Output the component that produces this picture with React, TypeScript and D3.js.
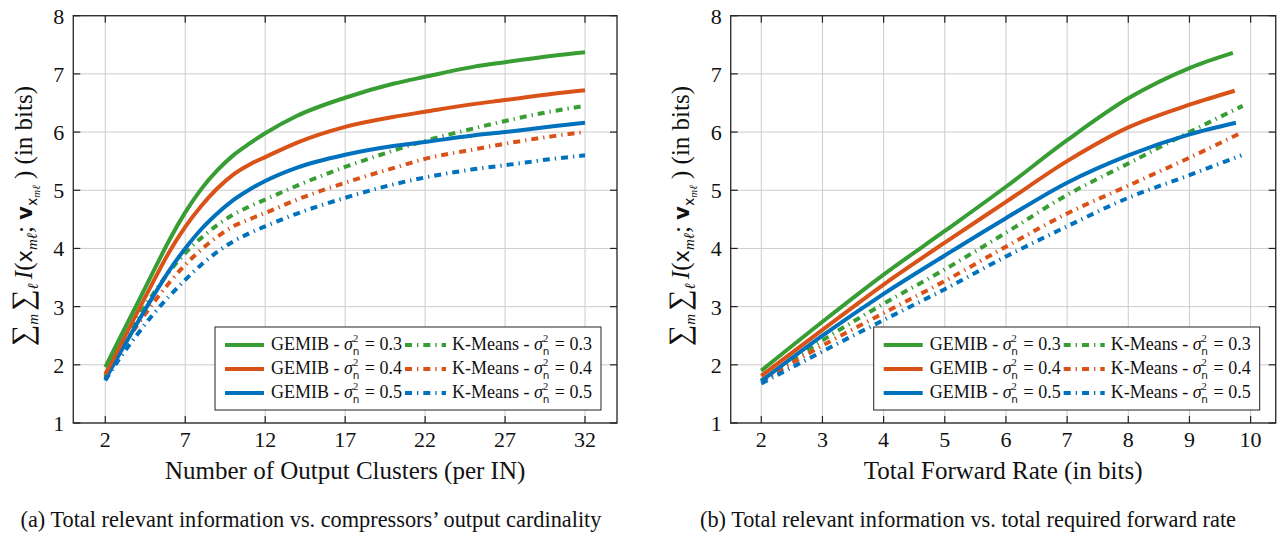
import React from 'react'
import * as d3 from 'd3'

// ---- data ----
const clusters = [2, 3, 4, 5, 6, 7, 8, 9, 10, 11, 12, 14, 17, 20, 22, 25, 27, 30, 32]
const gemibC03 = [1.96, 2.51, 3.05, 3.6, 4.14, 4.62, 5.02, 5.34, 5.6, 5.8, 5.98, 6.28, 6.59, 6.83, 6.95, 7.12, 7.2, 7.31, 7.37]
const gemibC04 = [1.84, 2.37, 2.9, 3.43, 3.94, 4.37, 4.73, 5.03, 5.27, 5.44, 5.57, 5.82, 6.09, 6.26, 6.35, 6.48, 6.55, 6.66, 6.72]
const gemibC05 = [1.75, 2.24, 2.72, 3.18, 3.62, 4.0, 4.33, 4.6, 4.83, 5.01, 5.16, 5.39, 5.61, 5.76, 5.83, 5.94, 6.0, 6.1, 6.16]
const kmeansC03 = [1.8, 2.34, 2.8, 3.22, 3.6, 3.92, 4.18, 4.4, 4.58, 4.72, 4.84, 5.08, 5.4, 5.68, 5.85, 6.06, 6.19, 6.36, 6.45]
const kmeansC04 = [1.77, 2.26, 2.68, 3.06, 3.41, 3.72, 3.98, 4.2, 4.38, 4.5, 4.61, 4.84, 5.13, 5.38, 5.54, 5.7, 5.8, 5.93, 6.0]
const kmeansC05 = [1.73, 2.15, 2.52, 2.87, 3.18, 3.46, 3.72, 3.94, 4.12, 4.26, 4.38, 4.6, 4.87, 5.1, 5.22, 5.36, 5.43, 5.54, 5.6]

const rateG03 = [2, 3, 4, 5, 6, 7, 8, 9, 9.71]
const rateG04 = [2, 3, 4, 5, 6, 7, 8, 9, 9.74]
const rateG05 = [2, 3, 4, 5, 6, 7, 8, 9, 9.76]
const rateK03 = [2, 3, 4, 5, 6, 7, 8, 9, 9.87]
const rateK04 = [2, 3, 4, 5, 6, 7, 8, 9, 9.83]
const rateK05 = [2, 3, 4, 5, 6, 7, 8, 9, 9.85]
const gemibR03 = [1.9, 2.74, 3.55, 4.3, 5.06, 5.86, 6.58, 7.1, 7.36]
const gemibR04 = [1.81, 2.6, 3.38, 4.1, 4.8, 5.5, 6.08, 6.47, 6.71]
const gemibR05 = [1.72, 2.5, 3.22, 3.88, 4.52, 5.13, 5.6, 5.96, 6.16]
const kmeansR03 = [1.73, 2.42, 3.05, 3.64, 4.27, 4.92, 5.46, 6.0, 6.45]
const kmeansR04 = [1.71, 2.33, 2.89, 3.44, 4.03, 4.6, 5.08, 5.56, 5.98]
const kmeansR05 = [1.68, 2.23, 2.77, 3.3, 3.86, 4.38, 4.87, 5.26, 5.6]

const clusterTicks = [2, 7, 12, 17, 22, 27, 32]
const rateTicks = [2, 3, 4, 5, 6, 7, 8, 9, 10]
const infoTicks = [1, 2, 3, 4, 5, 6, 7, 8]
const noiseLevels = ['0.3', '0.4', '0.5']

const GREEN = '#389e34'
const ORANGE = '#d95319'
const BLUE = '#0072bd'
const colors = [GREEN, ORANGE, BLUE]
const DASHDOT = '7 5 1.3 5'
const SERIF = '"Liberation Serif", "Times New Roman", serif'
const SANS = '"DejaVu Sans", "Liberation Sans", sans-serif'

type Series = { xs: number[]; ys: number[]; color: string; dashed: boolean }

// legend label: "<name> - σ²ₙ = <level>", scripts stacked without touching
function LegendText({ name, level }: { name: string; level: string }) {
  return (
    <>
      <tspan>{name} - </tspan>
      <tspan fontStyle="italic">σ</tspan>
      <tspan fontSize={10.5} dy={-8}>2</tspan>
      <tspan fontSize={10.5} fontFamily={SANS} dx={-5.5} dy={13}>n</tspan>
      <tspan dy={-5} dx={1}> = {level}</tspan>
    </>
  )
}

function YLabel({ x, y }: { x: number; y: number }) {
  return (
    <text transform={`translate(${x},${y}) rotate(-90)`} textAnchor="middle"
      fontFamily={SERIF} fontSize={25} fill="#111">
      <tspan fontSize={30}>∑</tspan>
      <tspan fontStyle="italic" fontSize={15} dy={6}>m</tspan>
      <tspan fontSize={30} dy={-6} dx={3}>∑</tspan>
      <tspan fontStyle="italic" fontSize={15} dy={6}>ℓ</tspan>
      <tspan fontStyle="italic" dy={-6} dx={4}>I</tspan>
      <tspan>(</tspan>
      <tspan fontFamily={SANS} fontSize={21}>x</tspan>
      <tspan fontStyle="italic" fontSize={15} dy={5}>mℓ</tspan>
      <tspan dy={-5}>; </tspan>
      <tspan fontFamily={SANS} fontWeight="bold" fontSize={21}>v</tspan>
      <tspan fontFamily={SANS} fontSize={14} dy={5}>x</tspan>
      <tspan fontStyle="italic" fontSize={11} dy={3}>mℓ</tspan>
      <tspan dy={-8}> ) (in bits)</tspan>
    </text>
  )
}

function Panel(props: {
  left: number; right: number; top: number; bottom: number
  xDomain: [number, number]; xTicks: number[]; series: Series[]
  xTitle: string; caption: string; captionX: number; yLabelX: number
}) {
  const { left, right, top, bottom, xDomain, xTicks, series } = props
  const x = d3.scaleLinear().domain(xDomain).range([left, right])
  const y = d3.scaleLinear().domain([1, 8]).range([bottom, top])
  const line = d3.line<[number, number]>().x(d => x(d[0])).y(d => y(d[1])).curve(d3.curveMonotoneX)
  const clipId = `clip${Math.round(left)}`

  const boxW = 386, boxH = 83
  const bx = right - 16 - boxW, by = bottom - 13 - boxH

  return (
    <g>
      <defs>
        <clipPath id={clipId}><rect x={left} y={top} width={right - left} height={bottom - top} /></clipPath>
      </defs>
      {xTicks.map(t => (
        <line key={'gx' + t} x1={x(t)} x2={x(t)} y1={top} y2={bottom} stroke="#cccccc" strokeWidth={1} />
      ))}
      {infoTicks.map(t => (
        <line key={'gy' + t} x1={left} x2={right} y1={y(t)} y2={y(t)} stroke="#cccccc" strokeWidth={1} />
      ))}
      <g clipPath={`url(#${clipId})`}>
        {series.map((s, i) => (
          <path key={i} d={line(s.xs.map((v, j) => [v, s.ys[j]] as [number, number])) || ''}
            fill="none" stroke={s.color} strokeWidth={4}
            strokeDasharray={s.dashed ? DASHDOT : undefined} strokeLinejoin="round" />
        ))}
      </g>
      {/* legend */}
      <rect x={bx} y={by} width={boxW} height={boxH} fill="#fff" stroke="#222" strokeWidth={1} />
      {noiseLevels.map((lv, i) => {
        const ry = by + 18 + i * 24
        return (
          <g key={lv}>
            <line x1={bx + 10} x2={bx + 49} y1={ry} y2={ry} stroke={colors[i]} strokeWidth={4} />
            <text x={bx + 56} y={ry + 5} fontFamily={SERIF} fontSize={18} fill="#111">
              <LegendText name="GEMIB" level={lv} />
            </text>
            <line x1={bx + 190} x2={bx + 231} y1={ry} y2={ry} stroke={colors[i]} strokeWidth={4} strokeDasharray={DASHDOT} />
            <text x={bx + 237} y={ry + 5} fontFamily={SERIF} fontSize={18} fill="#111">
              <LegendText name="K-Means" level={lv} />
            </text>
          </g>
        )
      })}
      {/* frame & ticks */}
      <rect x={left} y={top} width={right - left} height={bottom - top} fill="none" stroke="#333" strokeWidth={1.4} />
      {xTicks.map(t => (
        <g key={'tx' + t}>
          <line x1={x(t)} x2={x(t)} y1={bottom} y2={bottom - 7} stroke="#222" strokeWidth={1.2} />
          <line x1={x(t)} x2={x(t)} y1={top} y2={top + 7} stroke="#222" strokeWidth={1.2} />
          <text x={x(t)} y={bottom + 24} textAnchor="middle" fontFamily={SERIF} fontSize={22} fill="#111">{t}</text>
        </g>
      ))}
      {infoTicks.map(t => (
        <g key={'ty' + t}>
          <line x1={left} x2={left + 7} y1={y(t)} y2={y(t)} stroke="#222" strokeWidth={1.2} />
          <line x1={right} x2={right - 7} y1={y(t)} y2={y(t)} stroke="#222" strokeWidth={1.2} />
          <text x={left - 9} y={y(t) + 8} textAnchor="end" fontFamily={SERIF} fontSize={22} fill="#111">{t}</text>
        </g>
      ))}
      <text x={(left + right) / 2} y={479} textAnchor="middle" fontFamily={SERIF} fontSize={25} fill="#111">{props.xTitle}</text>
      <text x={props.captionX} y={527} textAnchor="middle" fontFamily={SERIF} fontSize={22.3} fill="#111">{props.caption}</text>
      <YLabel x={props.yLabelX} y={216} />
    </g>
  )
}

export default function App() {
  const leftSeries: Series[] = [
    { xs: clusters, ys: kmeansC03, color: GREEN, dashed: true },
    { xs: clusters, ys: kmeansC04, color: ORANGE, dashed: true },
    { xs: clusters, ys: kmeansC05, color: BLUE, dashed: true },
    { xs: clusters, ys: gemibC05, color: BLUE, dashed: false },
    { xs: clusters, ys: gemibC04, color: ORANGE, dashed: false },
    { xs: clusters, ys: gemibC03, color: GREEN, dashed: false },
  ]
  const rightSeries: Series[] = [
    { xs: rateK03, ys: kmeansR03, color: GREEN, dashed: true },
    { xs: rateK04, ys: kmeansR04, color: ORANGE, dashed: true },
    { xs: rateK05, ys: kmeansR05, color: BLUE, dashed: true },
    { xs: rateG05, ys: gemibR05, color: BLUE, dashed: false },
    { xs: rateG04, ys: gemibR04, color: ORANGE, dashed: false },
    { xs: rateG03, ys: gemibR03, color: GREEN, dashed: false },
  ]
  return (
    <svg width={1283} height={534} style={{ position: 'absolute', left: 0, top: 0, background: '#fff' }}>
      <Panel left={73.3} right={617} top={15.7} bottom={423} xDomain={[0, 34]} xTicks={clusterTicks}
        series={leftSeries} xTitle="Number of Output Clusters (per IN)"
        caption="(a) Total relevant information vs. compressors’ output cardinality" captionX={311} yLabelX={32} />
      <Panel left={730.7} right={1275.7} top={15.7} bottom={423} xDomain={[1.5, 10.41]} xTicks={rateTicks}
        series={rightSeries} xTitle="Total Forward Rate (in bits)"
        caption="(b) Total relevant information vs. total required forward rate" captionX={968} yLabelX={689} />
    </svg>
  )
}
